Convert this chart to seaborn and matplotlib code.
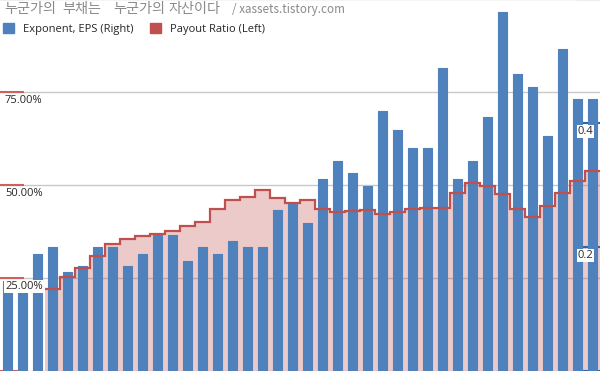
import matplotlib
matplotlib.use("Agg")
import matplotlib.pyplot as plt
import matplotlib.transforms as mtransforms
from matplotlib.patches import Patch
import numpy as np
import seaborn as sns

# EPS (right axis), one bar per period
periods = list(range(40))
eps = [0.145, 0.145, 0.189, 0.200, 0.159, 0.169, 0.200, 0.200, 0.169, 0.189,
       0.219, 0.219, 0.178, 0.200, 0.188, 0.210, 0.200, 0.200, 0.259, 0.269,
       0.239, 0.309, 0.338, 0.319, 0.298, 0.419, 0.389, 0.360, 0.360, 0.488,
       0.310, 0.339, 0.410, 0.579, 0.479, 0.458, 0.379, 0.519, 0.439, 0.439]

# payout ratio (left axis), starts at period 3
payout_start = 3
payout = [0.220, 0.253, 0.278, 0.309, 0.341, 0.354, 0.364, 0.368, 0.376, 0.390,
          0.401, 0.435, 0.461, 0.468, 0.487, 0.466, 0.452, 0.459, 0.435, 0.427,
          0.430, 0.433, 0.421, 0.427, 0.435, 0.438, 0.437, 0.479, 0.506, 0.496,
          0.475, 0.436, 0.415, 0.443, 0.478, 0.511, 0.538]

left_ticks = [0.25, 0.50, 0.75]
left_labels = ["25.00%", "50.00%", "75.00%"]
right_ticks = [0.2, 0.4]
right_labels = ["0.2", "0.4"]

title_words = ["누군가의", "부채는", "누군가의", "자산이다"]
title_url = "/ xassets.tistory.com"
eps_name = "Exponent, EPS (Right)"
payout_name = "Payout Ratio (Left)"

blue = "#4F81BD"
red = "#C0504D"
tick_red = "#D0605C"
tick_blue = "#2A66AE"

sns.set_style("white")
plt.rcParams["font.family"] = ["Open Sans", "DejaVu Sans"]

fig = plt.figure(figsize=(6, 3.71), dpi=100)
ax = fig.add_axes([0, 0, 1, 372 / 371])
ax.set_xlim(-0.5, len(periods) - 0.5)
ax.set_ylim(0, 1)
ax.set_yticks([0, 0.25, 0.5, 0.75, 1.0])
ax.yaxis.grid(True, color="#C8C8C8", lw=1)
ax.set_axisbelow(True)
for s in ax.spines.values():
    s.set_visible(False)

# filled area under the payout steps
edges = np.arange(payout_start - 0.5, len(periods))
ax.stairs(payout, edges, fill=True, baseline=0, color=red, alpha=0.3, lw=0)

# bars on the right axis (slightly rounded tops via round-joined edge)
ax2 = ax.twinx()
sns.barplot(x=periods, y=eps, ax=ax2, color=blue, saturation=1, width=0.6,
            edgecolor=blue, linewidth=0.8)
for bar in ax2.patches:
    bar.set_joinstyle("round")
ax2.set_xlim(-0.5, len(periods) - 0.5)
ax2.set_ylim(0, 0.6)
ax2.set_yticks([0, 0.2, 0.4, 0.6])
ax2.set_xlabel("")
ax2.set_ylabel("")
for s in ax2.spines.values():
    s.set_visible(False)

# payout step line on top
ax3 = ax.twinx()
ax3.set_ylim(0, 1)
ax3.stairs(payout, edges, baseline=None, color=red, lw=1.6)
ax3.set_yticks([])
for s in ax3.spines.values():
    s.set_visible(False)

ax.tick_params(axis="x", bottom=False, labelbottom=False)
ax.tick_params(axis="y", left=True, right=False, direction="in", length=17.3,
               width=1.5, color=tick_red, labelleft=False)
ax2.tick_params(axis="x", bottom=False, labelbottom=False)
ax2.tick_params(axis="y", right=True, left=False, direction="in", length=16.5,
                width=1.5, color=tick_blue, labelright=False)
ax3.tick_params(axis="x", bottom=False, labelbottom=False)

lt = mtransforms.offset_copy(
    mtransforms.blended_transform_factory(ax.transAxes, ax.transData),
    fig=fig, y=-3, units="dots")
for v, lab in zip(left_ticks, left_labels):
    ax3.text(5 / 600, v, lab, transform=lt, va="top", ha="left", fontsize=8,
             bbox=dict(fc="white", ec="none", pad=0.5))

rt = mtransforms.offset_copy(
    mtransforms.blended_transform_factory(ax2.transAxes, ax2.transData),
    fig=fig, y=-3, units="dots")
for v, lab in zip(right_ticks, right_labels):
    ax3.text(578 / 600, v, lab, transform=rt, va="top", ha="left", fontsize=8,
             bbox=dict(fc="white", ec="none", pad=0.5))

# title: korean words are set with wide spacing in the original
ko_font = ["Noto Sans CJK KR", "DejaVu Sans"]
for x_px, word in zip([4, 62, 113, 168], title_words):
    fig.text(x_px / 600, 1 - 9 / 371, word, color="#8A8A8A", fontsize=10.2,
             va="center", family=ko_font)
fig.text(232 / 600, 1 - 9 / 371, title_url, color="#8A8A8A", fontsize=8.4,
         va="center", family=ko_font)

handles = [Patch(color=blue, label=eps_name), Patch(color=red, label=payout_name)]
fig.legend(handles=handles, loc="upper left", bbox_to_anchor=(3 / 600, 1 - 23 / 371),
           ncol=2, frameon=False, fontsize=8, handlelength=1.0, handleheight=1.0,
           handletextpad=0.8, columnspacing=1.5, borderpad=0, borderaxespad=0)

fig.savefig("out.png", dpi=100)
